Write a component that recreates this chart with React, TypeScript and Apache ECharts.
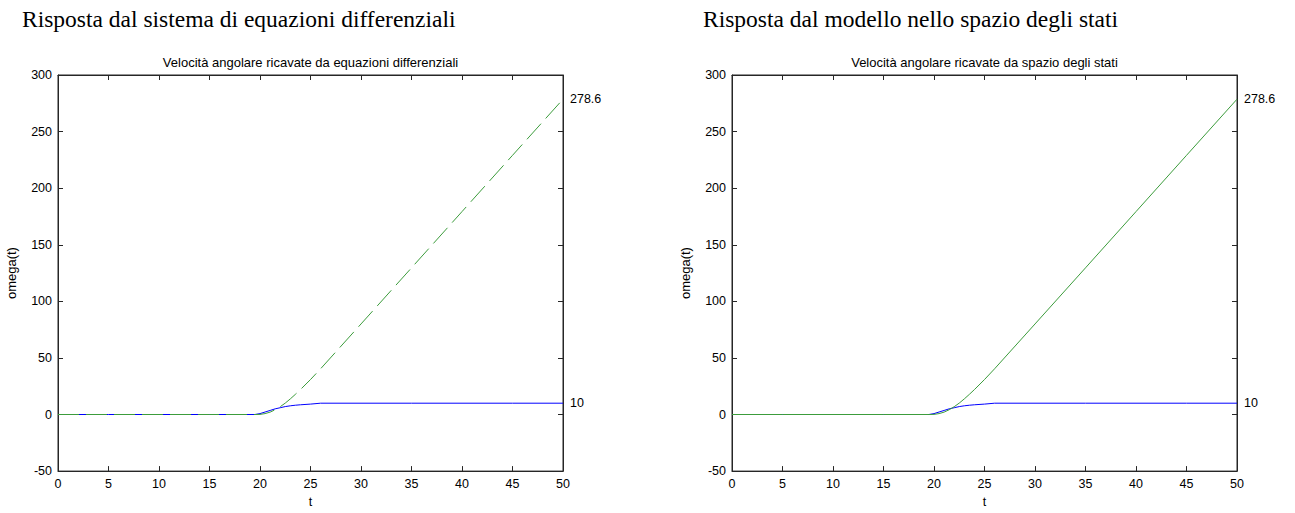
import React, { useEffect, useRef } from "react";
import * as echarts from "echarts";

const titles = ["Risposta dal sistema di equazioni differenziali", "Risposta dal modello nello spazio degli stati"];
const subtitles = ["Velocità angolare ricavate da equazioni differenziali", "Velocità angolare ricavate da spazio degli stati"];
const tValues = [0, 5, 10, 15, 19.5, 20, 20.5, 21, 21.5, 22, 22.5, 23, 23.5, 24, 25, 26, 30, 35, 40, 45, 50];
const blueOmega = [0, 0, 0, 0, 0, 0.8, 2.2, 3.6, 5, 6, 7, 7.7, 8.2, 8.6, 9.2, 10, 10, 10, 10, 10, 10];
const greenOmega = [0, 0, 0, 0, 0, 0.1, 0.8, 2.1, 4.2, 6.9, 10.1, 13.8, 17.8, 22, 30.9, 40.4, 80, 129.6, 179.3, 229, 278.6];

const AX = "#262626";
const FONT = "Liberation Sans, Arial, sans-serif";

export default function App() {
  const ref = useRef<HTMLDivElement>(null);
  useEffect(() => {
    const chart = echarts.init(ref.current!, null, { renderer: "svg" });
    const lefts = [58, 732];
    const grids = lefts.map((l) => ({ left: l, width: 505, top: 75, height: 398, show: true, borderColor: AX, borderWidth: 1, backgroundColor: "#fff" }));
    const xAxes: any[] = [];
    const yAxes: any[] = [];
    const series: any[] = [];
    const graphic: any[] = [];
    lefts.forEach((l, i) => {
      const baseX = {
        type: "value", gridIndex: i, min: 0, max: 50, interval: 5,
        axisLine: { show: true, onZero: false, lineStyle: { color: AX } },
        axisTick: { show: true, inside: true, length: 5, lineStyle: { color: AX } },
        splitLine: { show: false },
      };
      xAxes.push({
        ...baseX, position: "bottom",
        axisLabel: { color: "#000", fontSize: 12.5, fontFamily: FONT, margin: 6 },
        name: "t", nameLocation: "middle", nameGap: 22,
        nameTextStyle: { color: "#000", fontSize: 12.5, fontFamily: FONT },
      });
      xAxes.push({ ...baseX, position: "top", axisLabel: { show: false } });
      const baseY = {
        type: "value", gridIndex: i, min: -50, max: 300, interval: 50,
        axisLine: { show: true, onZero: false, lineStyle: { color: AX } },
        axisTick: { show: true, inside: true, length: 5, lineStyle: { color: AX } },
        splitLine: { show: false },
      };
      yAxes.push({
        ...baseY, position: "left",
        axisLabel: { color: "#000", fontSize: 12.5, fontFamily: FONT, margin: 6 },
        name: "omega(t)", nameLocation: "middle", nameGap: 40, nameRotate: 90,
        nameTextStyle: { color: "#000", fontSize: 13, fontFamily: FONT },
      });
      yAxes.push({ ...baseY, position: "right", axisLabel: { show: false } });
      const endLabel = { show: true, formatter: (p: any) => String(p.value[1]), color: "#000", fontSize: 12.5, fontFamily: FONT, distance: 7 };
      series.push({
        type: "line", xAxisIndex: i * 2, yAxisIndex: i * 2, showSymbol: false, symbol: "none",
        data: tValues.map((t, k) => [t, blueOmega[k]]),
        lineStyle: { color: "#0000ff", width: 1 }, itemStyle: { color: "#0000ff" },
        endLabel, z: 2,
      });
      series.push({
        type: "line", xAxisIndex: i * 2, yAxisIndex: i * 2, showSymbol: false, symbol: "none",
        data: tValues.map((t, k) => [t, greenOmega[k]]),
        lineStyle: { color: "#3c9c3c", width: 1, type: i === 0 ? [21, 7] : "solid" }, itemStyle: { color: "#3c9c3c" },
        endLabel, z: 3,
      });
      graphic.push({
        type: "text", left: i === 0 ? 22 : 703, top: 7,
        style: { text: titles[i], fill: "#000", font: "23.5px 'Liberation Serif', 'Times New Roman', serif" },
      });
      graphic.push({
        type: "text", x: l + 252.5, y: 62,
        style: { text: subtitles[i], fill: "#000", font: "13px 'Liberation Sans', Arial, sans-serif", align: "center", verticalAlign: "middle" },
      });
    });
    chart.setOption({
      animation: false,
      backgroundColor: "#fff",
      grid: grids,
      xAxis: xAxes,
      yAxis: yAxes,
      series,
      graphic,
    });
    return () => chart.dispose();
  }, []);
  return <div ref={ref} style={{ position: "fixed", left: 0, top: 0, width: 1295, height: 513 }} />;
}
